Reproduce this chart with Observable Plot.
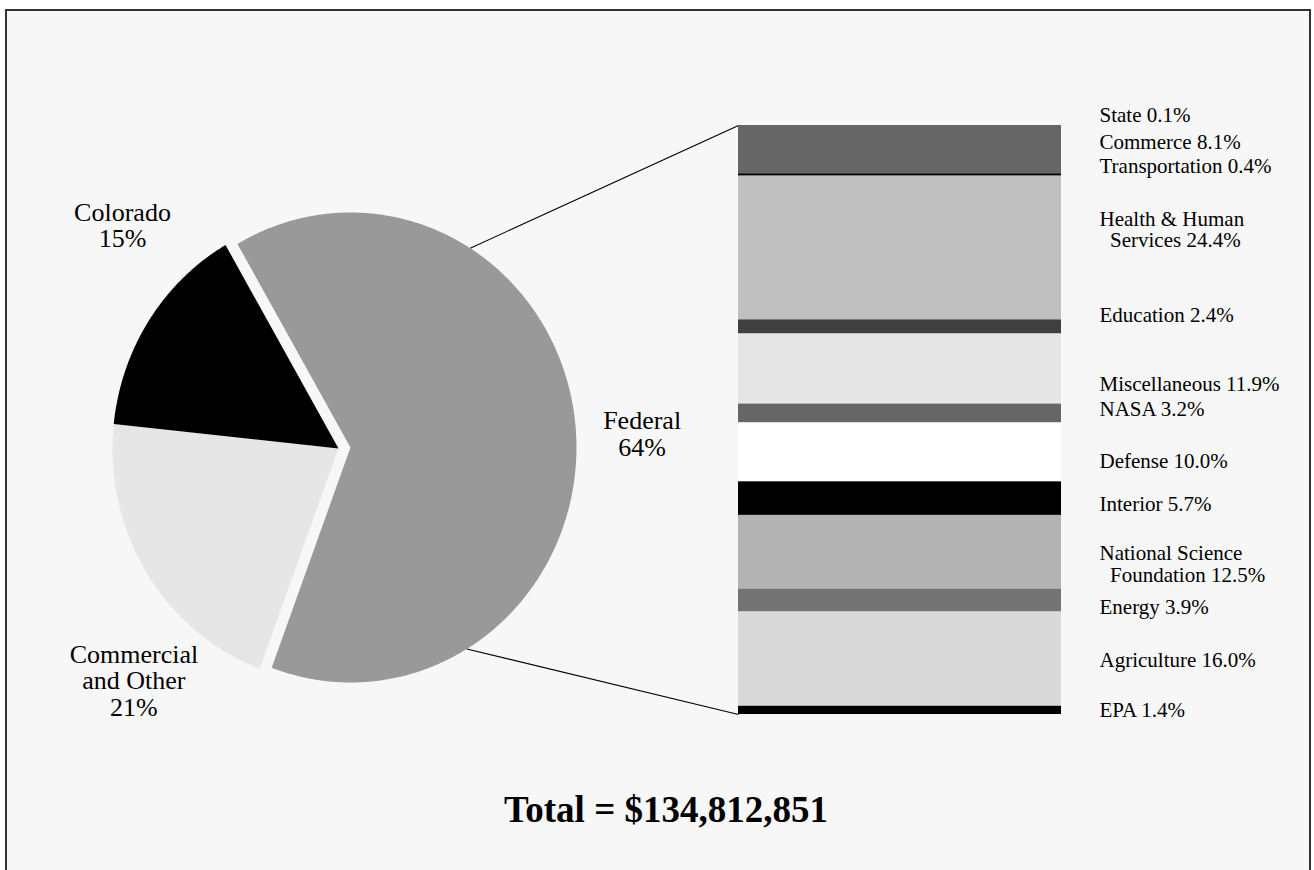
<!DOCTYPE html>
<html>
<head>
<meta charset="utf-8">
<script src="https://cdn.jsdelivr.net/npm/d3@7"></script>
<script src="https://cdn.jsdelivr.net/npm/@observablehq/plot@0.6"></script>
<style>
  html, body { margin: 0; padding: 0; background: #ffffff; overflow: hidden; }
  #stage { position: relative; width: 1314px; height: 870px; }
  #panel { position: absolute; left: 5px; top: 9px; width: 1306px; height: 900px; box-sizing: border-box;
           border: 2px solid #333333; border-bottom: none; background: #f7f7f7; }
  #stage svg { position: absolute; left: 0; top: 0; display: block; }
  #total { position: absolute; left: 0; top: 791px; width: 1332px; text-align: center;
           font-family: "Liberation Serif", "Times New Roman", serif; font-weight: bold;
           font-size: 37px; line-height: 37px; color: #000; }
</style>
</head>
<body>
<div id="stage"><div id="panel"></div></div>
<script>
// ---------------- DATA ----------------
const sourceNames  = ["Federal", "Commercial\nand Other", "Colorado"];
const sourceShares = [64, 21, 15];
const sourceColors = ["#999999", "#e6e6e6", "#000000"];

const agencyNames = [
  "State", "Commerce", "Transportation", "Health & Human\n\u00a0\u00a0Services", "Education",
  "Miscellaneous", "NASA", "Defense", "Interior", "National Science\n\u00a0\u00a0Foundation",
  "Energy", "Agriculture", "EPA"
];
const agencyShares = [0.1, 8.1, 0.4, 24.4, 2.4, 11.9, 3.2, 10.0, 5.7, 12.5, 3.9, 16.0, 1.4];
const agencyColors = [
  "#000000", "#666666", "#000000", "#c0c0c0", "#404040",
  "#e6e6e6", "#666666", "#ffffff", "#000000", "#b3b3b3",
  "#737373", "#d9d9d9", "#000000"
];
const totalLabel = "Total = $134,812,851";

// ---------------- LAYOUT ----------------
const W = 1314, H = 870;
const FONT = '"Liberation Serif", "Times New Roman", serif';
const pieCx = 338, pieCy = 448, pieRx = 226, pieRy = 235;
const pieStartDeg = -30;           // rotation of first slice
const explodedIndex = 0, explodeBy = 12;
const pieLabelPolar = [ {deg: 87.4, k: 1.292}, {deg: 222.5, k: 1.340}, {deg: 314.8, k: 1.347} ];
const connectorDeg = [32, 149];
const barLeft = 738, barRight = 1061, barTop = 125, barBottom = 714;
const labelGap = 38;
const agencyLabelNudge = [-11.0, -7.8, -9.3, -18.4, -11.4, 14.7, -4.0, 9.1, 5.9, 11.7, 6.6, 0.7, 0.1]; // px

// ---------------- PIE GEOMETRY ----------------
const rad = d => d * Math.PI / 180;
const arcs = d3.pie().sort(null)
  .startAngle(rad(pieStartDeg)).endAngle(rad(pieStartDeg) + 2 * Math.PI)(sourceShares);
const centers = arcs.map((a, i) => {
  const mid = (a.startAngle + a.endAngle) / 2;
  const off = i === explodedIndex ? explodeBy : 0;
  return [pieCx + off * Math.sin(mid), pieCy - off * Math.cos(mid)];
});
const onEllipse = (c, ang, k = 1) => [c[0] + pieRx * k * Math.sin(ang), c[1] - pieRy * k * Math.cos(ang)];

const slicePoints = arcs.flatMap((a, i) => {
  const c = centers[i];
  const n = Math.max(2, Math.ceil((a.endAngle - a.startAngle) / rad(0.5)));
  const pts = [{x: c[0], y: c[1], slice: i, color: sourceColors[i]}];
  for (let j = 0; j <= n; j++) {
    const ang = a.startAngle + (a.endAngle - a.startAngle) * j / n;
    const [x, y] = onEllipse(c, ang);
    pts.push({x, y, slice: i, color: sourceColors[i]});
  }
  pts.push({x: c[0], y: c[1], slice: i, color: sourceColors[i]});
  return pts;
});

const pieLabels = sourceNames.map((name, i) => {
  const c = centers[i];
  const [x, y] = onEllipse(c, rad(pieLabelPolar[i].deg), pieLabelPolar[i].k);
  return {x, y, text: `${name}\n${sourceShares[i]}%`};
});

const connectors = connectorDeg.map((deg, i) => {
  const [x1, y1] = onEllipse(centers[explodedIndex], rad(deg));
  return {x1, y1, x2: barLeft, y2: i === 0 ? barTop : barBottom};
});

// ---------------- BAR DATA ----------------
const cum = d3.cumsum(agencyShares);
const pxPerPct = (barBottom - barTop) / 100;
const agencies = agencyNames.map((name, i) => ({
  name,
  share: agencyShares[i],
  color: agencyColors[i],
  label: `${name} ${agencyShares[i].toFixed(1)}%`,
  labelY: cum[i] - agencyShares[i] / 2 + agencyLabelNudge[i] / pxPerPct
}));

// ---------------- PLOTS ----------------
const piePlot = Plot.plot({
  width: W, height: H, margin: 0,
  x: {type: "identity", axis: null},
  y: {type: "identity", axis: null},
  color: {type: "identity"},
  style: {background: "transparent", fontFamily: FONT, color: "#000", overflow: "visible"},
  marks: [
    Plot.line(slicePoints, {x: "x", y: "y", z: "slice", fill: "color", stroke: "none"}),
    Plot.link(connectors, {x1: "x1", y1: "y1", x2: "x2", y2: "y2", stroke: "#000", strokeWidth: 1.1}),
    Plot.text(pieLabels, {x: "x", y: "y", text: "text", fontSize: 26, lineHeight: 1.027, fill: "#000", textAnchor: "middle"})
  ]
});

const barPlot = Plot.plot({
  width: W, height: H, margin: 0,
  x: {domain: [0, 1], range: [barLeft, barRight], axis: null},
  y: {domain: [0, 100], range: [barTop, barBottom], axis: null},
  color: {type: "identity"},
  style: {background: "transparent", fontFamily: FONT, color: "#000", overflow: "visible"},
  marks: [
    Plot.rectY(agencies, {x1: 0, x2: 1, y: "share", fill: "color"}),
    Plot.text(agencies, {x: 1, y: "labelY", text: "label", dx: labelGap, textAnchor: "start",
                         fontSize: 21, lineHeight: 1.03, fill: "#000"})
  ]
});

const stage = document.getElementById("stage");
stage.appendChild(piePlot);
stage.appendChild(barPlot);
const total = document.createElement("div");
total.id = "total";
total.textContent = totalLabel;
stage.appendChild(total);
</script>
</body>
</html>
